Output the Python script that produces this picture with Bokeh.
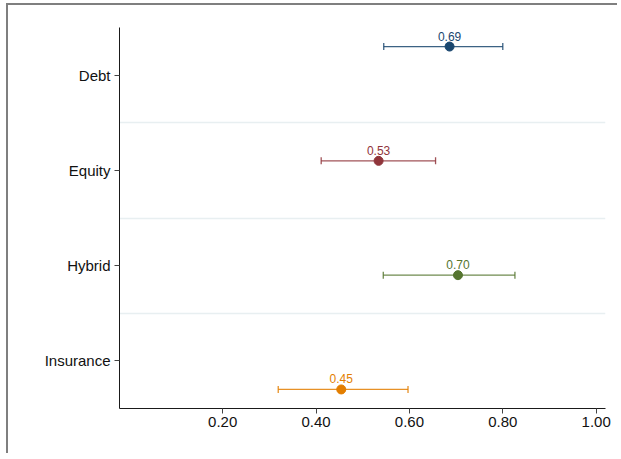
from bokeh.plotting import figure
from bokeh.models import FixedTicker, ColumnDataSource, Range1d
from bokeh.core.properties import value
from bokeh.embed import file_html
from bokeh.resources import INLINE

categories = ["Debt", "Equity", "Hybrid", "Insurance"]
estimates = [0.686, 0.534, 0.704, 0.454]
ci_low = [0.545, 0.411, 0.544, 0.319]
ci_high = [0.800, 0.656, 0.826, 0.597]
colors = ["#1a476f", "#90353b", "#55752f", "#e37e00"]
x_ticks = [0.2, 0.4, 0.6, 0.8, 1.0]

n = len(categories)
cat_pos = [n - i for i in range(n)]                     # 4,3,2,1
shift = [0.3 - 0.2 * i for i in range(n)]               # coefplot-style offsets
ypos = [c + s for c, s in zip(cat_pos, shift)]
labels = ["%.2f" % v for v in estimates]

src = ColumnDataSource(dict(est=estimates, lo=ci_low, hi=ci_high, y=ypos,
                            color=colors, label=labels))

W, H = 611, 450
p = figure(width=W, height=H, x_range=Range1d(-0.021, 1.02),
           y_range=Range1d(0.5, 4.5), output_backend="svg",
           toolbar_location=None, margin=(3, 0, 0, 6))
p.styles = {"border-top": "2px solid #7f7f7f", "border-left": "2px solid #7f7f7f"}
p.min_border_left = 111
p.min_border_right = W - 111 - 486
p.min_border_top = 22
p.min_border_bottom = H - 22 - 381
p.outline_line_color = None
p.background_fill_color = "white"
p.border_fill_color = "white"

# grid: separators between categories
p.xgrid.visible = False
p.ygrid.ticker = FixedTicker(ticks=[c + 0.5 for c in cat_pos[1:]])
p.ygrid.grid_line_color = "#e8eff1"
p.ygrid.grid_line_width = 1.5

# axes
p.xaxis.ticker = FixedTicker(ticks=x_ticks)
p.xaxis.major_label_overrides = {t: "%.2f" % t for t in x_ticks}
p.yaxis.ticker = FixedTicker(ticks=cat_pos)
p.yaxis.major_label_overrides = {c: name for c, name in zip(cat_pos, categories)}
for ax in (p.xaxis, p.yaxis):
    ax.axis_line_color = "#1a1a1a"
    ax.axis_line_width = 1
    ax.major_tick_line_color = "#444444"
    ax.major_tick_out = 5
    ax.major_tick_in = 0
    ax.minor_tick_line_color = None
    ax.major_label_text_font = "Liberation Sans"
    ax.major_label_text_font_size = "15px"
    ax.major_label_text_color = "#111111"
p.xaxis.major_label_standoff = 3
p.yaxis.major_label_standoff = 4

# CI lines and caps
p.segment(x0="lo", x1="hi", y0="y", y1="y", source=src, line_color="color",
          line_width=1.3, line_alpha=0.85)
p.scatter(x="lo", y="y", source=src, marker="dash", angle=1.5708, size=7,
          line_color="color", line_width=1.3, line_alpha=0.85)
p.scatter(x="hi", y="y", source=src, marker="dash", angle=1.5708, size=7,
          line_color="color", line_width=1.3, line_alpha=0.85)
# point estimates
p.scatter(x="est", y="y", source=src, marker="circle", size=9,
          fill_color="color", line_color="color")
# value labels
p.text(x="est", y="y", text="label", source=src, text_color="color",
       text_font=value("Liberation Sans"), text_font_size="12px",
       text_align="center", text_baseline="bottom", y_offset=-6)

open("out.html", "w").write(file_html(p, INLINE))
